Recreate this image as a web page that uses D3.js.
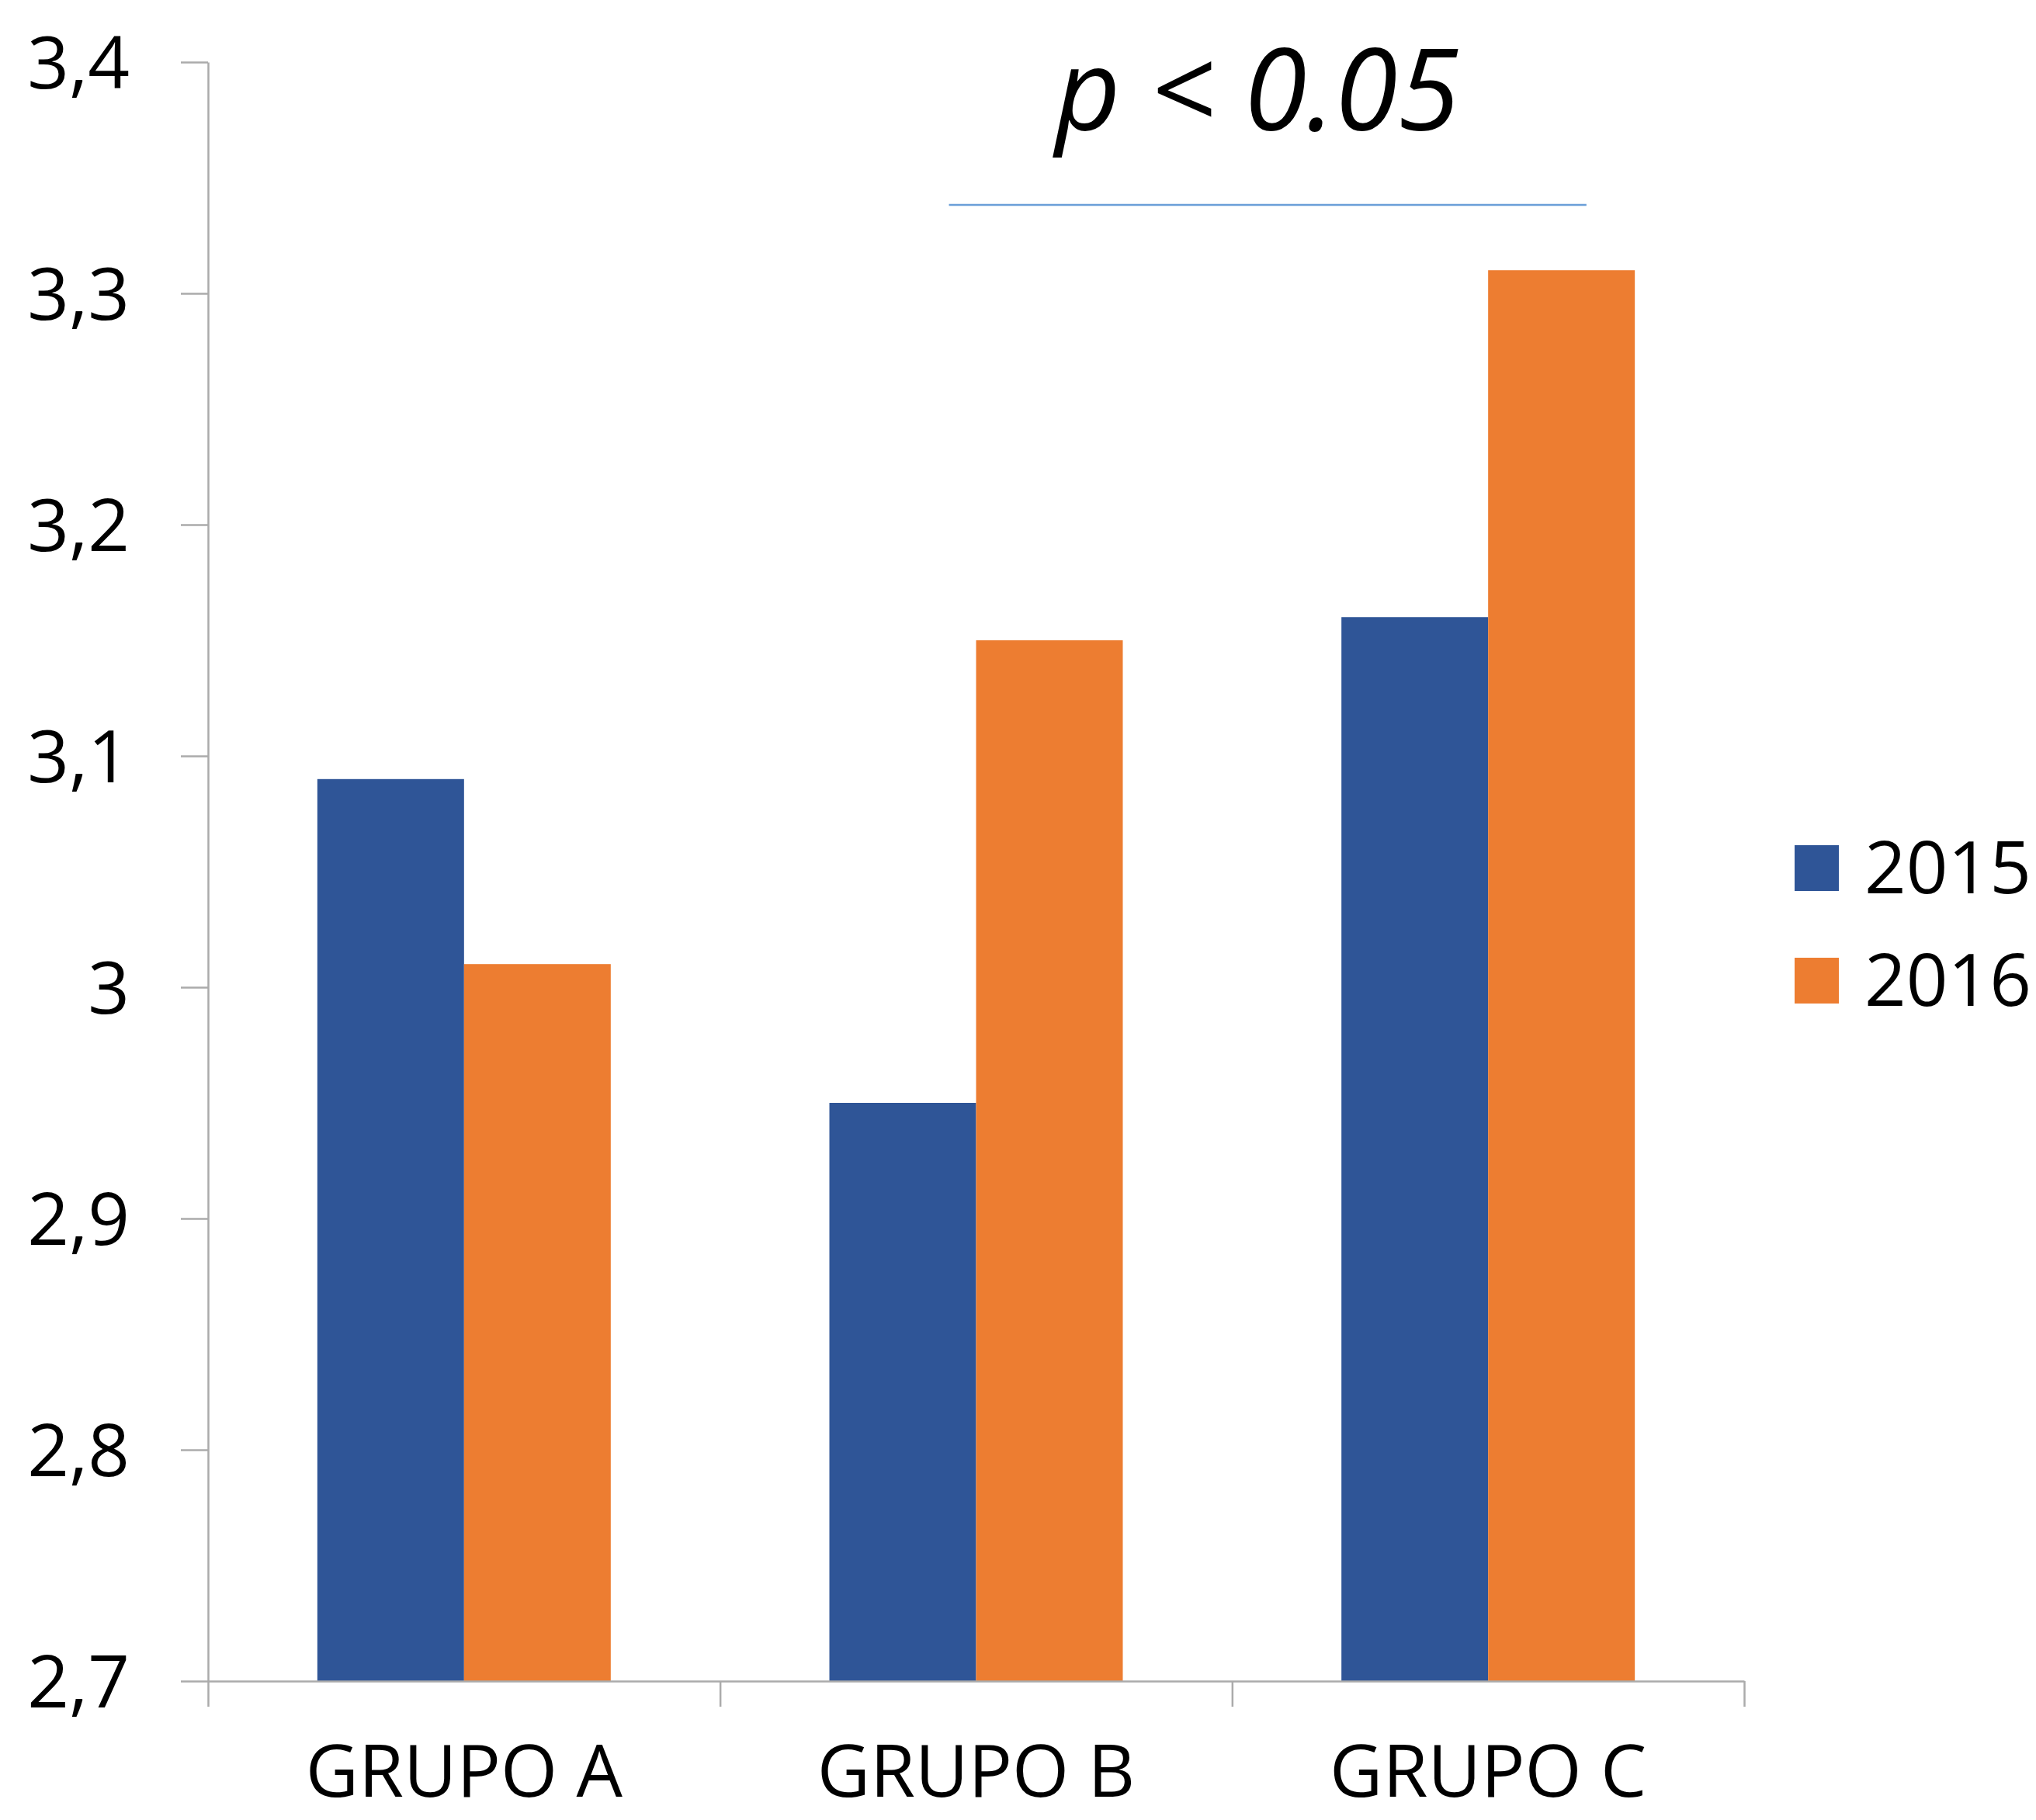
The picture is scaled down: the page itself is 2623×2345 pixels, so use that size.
<!DOCTYPE html>
<html>
<head>
<meta charset="utf-8">
<script src="https://cdn.jsdelivr.net/npm/d3@7"></script>
<style>
  html, body { margin: 0; padding: 0; background: #ffffff; }
  svg { display: block; }
  text { font-family: "Open Sans", "Noto Sans", sans-serif; fill: #000; }
</style>
</head>
<body>
<svg id="chart" width="2623" height="2345"></svg>
<script>
// ---- data ----
const categories = ["GRUPO A", "GRUPO B", "GRUPO C"];
const seriesNames = ["2015", "2016"];
const values2015 = [3.09, 2.95, 3.16];
const values2016 = [3.01, 3.15, 3.31];
const yTicks = [2.7, 2.8, 2.9, 3.0, 3.1, 3.2, 3.3, 3.4];
const yTickLabels = ["2,7", "2,8", "2,9", "3", "3,1", "3,2", "3,3", "3,4"];
const annotation = "p < 0.05";
const seriesColors = ["#2F5597", "#ED7D31"];

(function () {
// ---- layout ----
const plotLeft = 268, plotRight = 2247, plotTop = 80, plotBottom = 2166;
const svg = d3.select("#chart");

const y = d3.scaleLinear().domain([2.7, 3.4]).range([plotBottom, plotTop]);
const x0 = d3.scaleBand().domain(categories).range([plotLeft, plotRight]).padding(0);
const groupFrac = 0.573;
const x1 = d3.scaleBand().domain(seriesNames)
  .range([0, x0.bandwidth() * groupFrac]).padding(0);
const groupOffset = (x0.bandwidth() * (1 - groupFrac)) / 2;
const color = d3.scaleOrdinal().domain(seriesNames).range(seriesColors);

const rows = categories.map((c, i) => ({ cat: c, vals: [
  { s: seriesNames[0], v: values2015[i] }, { s: seriesNames[1], v: values2016[i] }
]}));

// bars
const g = svg.append("g");
g.selectAll("g.grp").data(rows).join("g")
  .attr("class", "grp")
  .attr("transform", d => `translate(${x0(d.cat) + groupOffset},0)`)
  .selectAll("rect").data(d => d.vals).join("rect")
  .attr("x", d => x1(d.s))
  .attr("width", x1.bandwidth())
  .attr("y", d => y(d.v))
  .attr("height", d => y(2.7) - y(d.v))
  .attr("fill", d => color(d.s));

const axisColor = "#ababab";

// y axis
const yAxis = d3.axisLeft(y).tickValues(yTicks)
  .tickFormat((d, i) => yTickLabels[i])
  .tickSize(35).tickSizeOuter(0).tickPadding(66);
const ya = svg.append("g").attr("transform", `translate(${plotLeft},0)`).call(yAxis);
ya.select(".domain").attr("stroke", axisColor).attr("stroke-width", 2.5);
ya.selectAll(".tick line").attr("stroke", axisColor).attr("stroke-width", 2.5);
ya.selectAll(".tick text").attr("font-size", 94)
  .attr("font-family", "'Open Sans', sans-serif").attr("fill", "#000").attr("dy", "0.36em");

// x axis line + boundary ticks
const xb = d3.scaleLinear().domain([0, categories.length]).range([plotLeft, plotRight]);
const xAxisTicks = d3.axisBottom(xb).tickValues(d3.range(categories.length + 1))
  .tickFormat("").tickSize(33).tickSizeOuter(0);
const xa = svg.append("g").attr("transform", `translate(0,${plotBottom})`).call(xAxisTicks);
xa.select(".domain").attr("stroke", axisColor).attr("stroke-width", 2.5);
xa.selectAll(".tick line").attr("stroke", axisColor).attr("stroke-width", 2.5);

// category labels
const xLabels = d3.axisBottom(x0).tickSize(0).tickPadding(82);
const xl = svg.append("g").attr("transform", `translate(0,${plotBottom})`).call(xLabels);
xl.select(".domain").remove();
xl.selectAll(".tick text").attr("font-size", 94)
  .attr("font-family", "'Open Sans', sans-serif").attr("fill", "#000");

// legend
const legend = svg.append("g").attr("transform", "translate(2312,1089)");
seriesNames.forEach((s, i) => {
  const row = legend.append("g").attr("transform", `translate(0,${i * 145})`);
  row.append("rect").attr("width", 57).attr("height", 59).attr("fill", color(s));
  row.append("text").attr("x", 90).attr("y", 62)
    .attr("font-size", 94).text(s);
});

// significance annotation
svg.append("line")
  .attr("x1", xb(1.447)).attr("x2", xb(2.692))
  .attr("y1", 264).attr("y2", 264)
  .attr("stroke", "#6a9fd8").attr("stroke-width", 2.5);
svg.append("text")
  .attr("x", 1620).attr("y", 168)
  .attr("text-anchor", "middle")
  .attr("font-size", 146).attr("font-style", "italic")
  .text(annotation);
})();
</script>
</body>
</html>
